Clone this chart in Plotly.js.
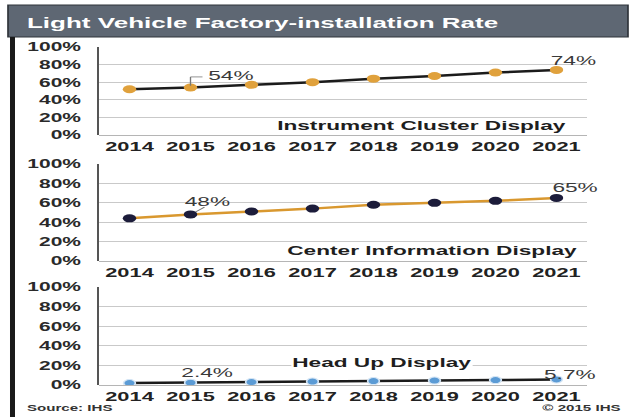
<!DOCTYPE html>
<html>
<head>
<meta charset="utf-8">
<script src="https://cdn.plot.ly/plotly-3.0.1.min.js"></script>
<style>
  html, body { margin: 0; padding: 0; background: #ffffff; overflow: hidden; }
  #plot { width: 377px; height: 417px; transform: scaleX(1.679); transform-origin: 0 0; }
</style>
</head>
<body>
<div id="plot"></div>
<script>
// ---- data ----
var years = ['2014', '2015', '2016', '2017', '2018', '2019', '2020', '2021'];
var instrumentCluster = [52, 54, 57, 60, 64, 67, 71, 74];
var centerInfo = [44, 48, 51, 54, 58, 60, 62, 65];
var headUp = [2.0, 2.4, 3.0, 3.5, 4.0, 4.5, 5.0, 5.7];
var yTickVals = [0, 20, 40, 60, 80, 100];
var panelNames = ['Instrument Cluster Display', 'Center Information Display', 'Head Up Display'];
var chartTitle = 'Light Vehicle Factory-installation Rate';

// ---- geometry (paper fractions, margins are zero) ----
var W = 633, H = 417;
var xDom = [99 / W, 587 / W];
var yDoms = [
  [1 - 135 / H, 1 - 47 / H],
  [1 - 261 / H, 1 - 164 / H],
  [1 - 385 / H, 1 - 287 / H]
];
var FONT = 'Liberation Sans, Arial, sans-serif';

var traces = [
  { x: years, y: instrumentCluster, xaxis: 'x', yaxis: 'y', type: 'scatter', mode: 'lines+markers',
    line: { color: '#1b1b1b', width: 2.5 }, marker: { color: '#e0a13c', size: 8 }, hoverinfo: 'none' },
  { x: years, y: centerInfo, xaxis: 'x2', yaxis: 'y2', type: 'scatter', mode: 'lines+markers',
    line: { color: '#d9982f', width: 2.5 }, marker: { color: '#1c1c3a', size: 8 }, hoverinfo: 'none' },
  { x: years, y: headUp, xaxis: 'x3', yaxis: 'y3', type: 'scatter', mode: 'lines+markers',
    line: { color: '#1b1b1b', width: 2.5 }, marker: { color: '#5b9bd5', size: 7, line: { color: '#d6e6f5', width: 1 } }, hoverinfo: 'none' }
];

function xAxis(i) {
  return {
    domain: xDom, anchor: 'y' + (i === 1 ? '' : i), type: 'category',
    categoryorder: 'array', categoryarray: years, range: [-0.5, years.length - 0.5],
    showgrid: false, zeroline: false, showline: false, ticks: '',
    tickfont: { family: FONT, size: 13, color: '#222222', weight: 'bold' },
    ticklabelstandoff: 2, fixedrange: true
  };
}
function yAxis(i) {
  return {
    domain: yDoms[i - 1], anchor: 'x' + (i === 1 ? '' : i), range: [0, 100],
    tickmode: 'array', tickvals: yTickVals, ticktext: yTickVals.map(function (v) { return v + '%'; }),
    showgrid: true, gridcolor: '#c9c9c9', gridwidth: 1,
    zeroline: true, zerolinecolor: '#b5b5b5', zerolinewidth: 1,
    showline: true, linecolor: '#555555', linewidth: 1.2,
    ticks: '', ticklabelstandoff: 7,
    tickfont: { family: FONT, size: 12.5, color: '#2a2a2a', weight: 'bold' }, fixedrange: true
  };
}

// paper x-fraction of a category's centre
function catFrac(idx) {
  return xDom[0] + (idx + 0.5) / years.length * (xDom[1] - xDom[0]);
}

var labelFont = { family: FONT, size: 13.5, color: '#3a3a3a' };
var panelFont = { family: FONT, size: 13.5, color: '#1e1e1e', weight: 'bold' };

function dataLabel(yref, idx, values, xshift, yshift) {
  return { xref: 'paper', yref: yref, x: catFrac(idx), y: values[idx], xanchor: 'center', yanchor: 'middle',
    xshift: xshift, yshift: yshift, text: values[idx] + '%', showarrow: false,
    font: { family: labelFont.family, size: labelFont.size, color: labelFont.color } };
}

var annotations = [
  // title
  { xref: 'paper', yref: 'paper', x: 24 / W, y: 1 - 22 / H, xanchor: 'left', yanchor: 'middle',
    text: '<b>' + chartTitle + '</b>', showarrow: false,
    font: { family: FONT, size: 15.5, color: '#ffffff' } },
  // panel names
  { xref: 'paper', yref: 'paper', x: 421 / W, y: 1 - 125 / H, xanchor: 'center', yanchor: 'middle',
    text: panelNames[0], showarrow: false, font: panelFont },
  { xref: 'paper', yref: 'paper', x: 433 / W, y: 1 - 250 / H, xanchor: 'center', yanchor: 'middle',
    text: panelNames[1], showarrow: false, font: panelFont },
  { xref: 'paper', yref: 'paper', x: 382 / W, y: 1 - 362 / H, xanchor: 'center', yanchor: 'middle',
    text: panelNames[2], showarrow: false, font: panelFont, bgcolor: '#ffffff', borderpad: 0 },
  // data labels
  dataLabel('y', 1, instrumentCluster, 24, 11.5),
  dataLabel('y', 7, instrumentCluster, 9.8, 9.5),
  dataLabel('y2', 1, centerInfo, 9.8, 12.5),
  dataLabel('y2', 7, centerInfo, 11.3, 10),
  dataLabel('y3', 1, headUp, 9.8, 10),
  dataLabel('y3', 7, headUp, 7.7, 5),
  // footer
  { xref: 'paper', yref: 'paper', x: 24 / W, y: 1 - 408 / H, xanchor: 'left', yanchor: 'middle',
    text: '<b>Source: IHS</b>', showarrow: false, font: { family: FONT, size: 9, color: '#333333' } },
  { xref: 'paper', yref: 'paper', x: 625 / W, y: 1 - 408 / H, xanchor: 'right', yanchor: 'middle',
    text: '<b>© 2015 IHS</b>', showarrow: false, font: { family: FONT, size: 9, color: '#333333' } }
];

var lx = catFrac(1);
var shapes = [
  // title bar
  { type: 'rect', xref: 'paper', yref: 'paper', x0: 8 / W, x1: 628 / W, y0: 1 - 37 / H, y1: 1 - 5 / H,
    fillcolor: '#5e6773', line: { color: '#2f343a', width: 1 }, layer: 'above' },
  // left frame bar
  { type: 'rect', xref: 'paper', yref: 'paper', x0: 10 / W, x1: 15 / W, y0: 0, y1: 1 - 37 / H,
    fillcolor: '#1a1a1a', line: { width: 0 } },
  // elbow leader for 54%
  { type: 'line', xref: 'paper', yref: 'y', x0: lx, x1: lx, y0: instrumentCluster[1] + 2, y1: instrumentCluster[1] + 12,
    line: { color: '#777777', width: 0.8 } },
  { type: 'line', xref: 'paper', yref: 'y', x0: lx, x1: lx + 12 / W, y0: instrumentCluster[1] + 12, y1: instrumentCluster[1] + 12,
    line: { color: '#777777', width: 0.8 } },
  // short diagonal leader for 48%
  { type: 'line', xref: 'paper', yref: 'y2', x0: lx + 5 / W, x1: lx + 14 / W, y0: centerInfo[1] + 2.5, y1: centerInfo[1] + 7.5,
    line: { color: '#777777', width: 0.8 } }
];

var layout = {
  width: 377, height: 417,
  margin: { l: 0, r: 0, t: 0, b: 0, pad: 0 },
  paper_bgcolor: '#ffffff', plot_bgcolor: '#ffffff',
  showlegend: false,
  xaxis: xAxis(1), xaxis2: xAxis(2), xaxis3: xAxis(3),
  yaxis: yAxis(1), yaxis2: yAxis(2), yaxis3: yAxis(3),
  annotations: annotations,
  shapes: shapes
};

Plotly.newPlot('plot', traces, layout, { displayModeBar: false, staticPlot: true });
</script>
</body>
</html>
